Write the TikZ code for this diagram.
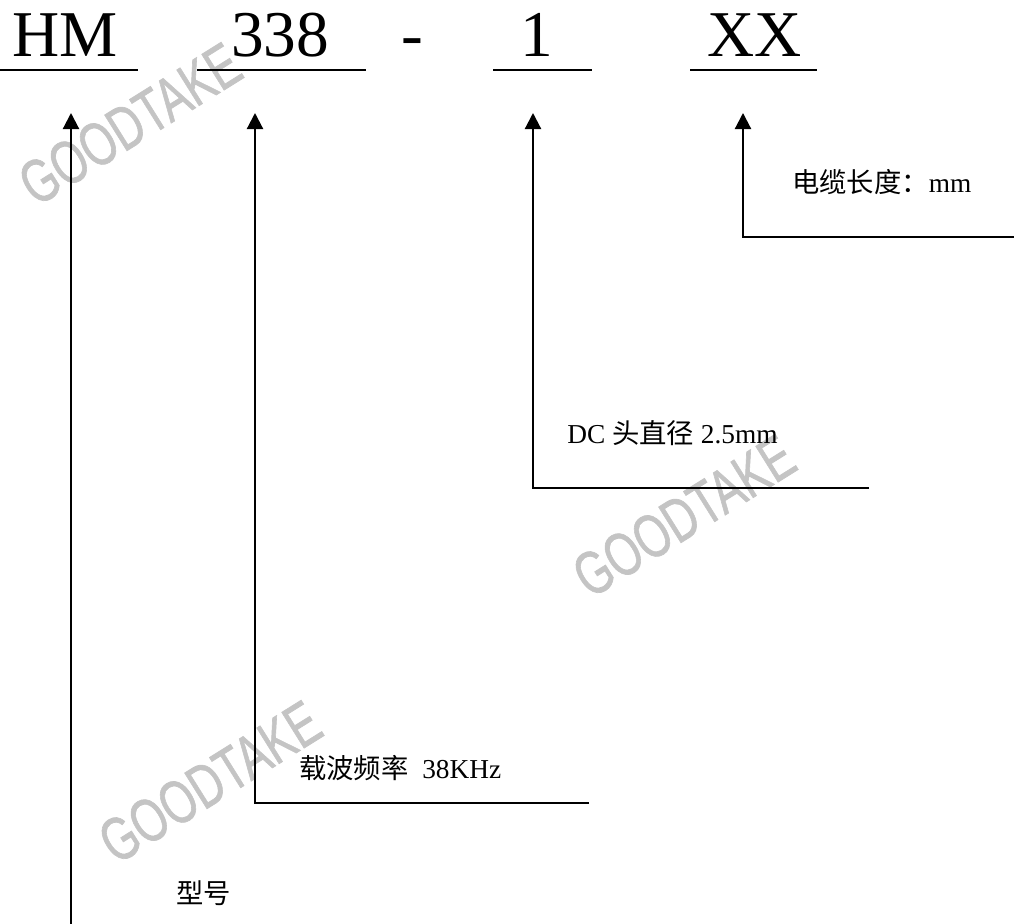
\documentclass[tikz,border=0pt]{standalone}
\usepackage{fontspec}
\setmainfont{Liberation Serif}
\newfontfamily\cjk{Noto Sans CJK SC}
\newfontfamily\wmfont[FakeBold=1.2]{Liberation Sans}
\usetikzlibrary{arrows.meta}
\definecolor{wmgray}{RGB}{196,196,196}
\tikzset{
  code/.style={anchor=base, inner sep=0pt, font=\fontsize{49pt}{49pt}\selectfont},
  uline/.style={line width=2.2pt},
  label/.style={anchor=base west, inner sep=0pt, font=\fontsize{20.5pt}{24pt}\selectfont},
  conn/.style={line width=1.6pt, -{Triangle[width=12pt,length=12pt]}},
  wm/.style={text=wmgray, inner sep=0pt, rotate=32, font=\fontsize{46pt}{46pt}\selectfont\wmfont}
}
\begin{document}
\begin{tikzpicture}[x=0.75pt,y=-0.75pt]
\useasboundingbox (0,0) rectangle (1014,924);
% watermarks
\node[wm] (wm1) at (130,124) {\scalebox{0.72}[1]{GOODTAKE}};
\node[wm] (wm2) at (684,516) {\scalebox{0.72}[1]{GOODTAKE}};
\node[wm] (wm3) at (210,782) {\scalebox{0.72}[1]{GOODTAKE}};
% code parts
\node[code] (hm) at (65,57) {HM};
\node[code] (n338) at (280,57) {338};
\node[code] (dash) at (412,57) {-};
\node[code] (one) at (537,57) {1};
\node[code] (xx) at (755,57) {XX};
\draw[uline] (0,70) -- (138,70);
\draw[uline] (197,70) -- (366,70);
\draw[uline] (493,70) -- (592,70);
\draw[uline] (690,70) -- (817,70);
% labels
\node[label] (l4) at (792,192) {{\cjk 电缆长度：}mm};
\node[label] (l3) at (567,443) {DC {\cjk 头直径} 2.5mm};
\node[label] (l2) at (299,778) {{\cjk 载波频率}\ \ 38KHz};
\node[label] (l1) at (176,903) {{\cjk 型号}};
% connector coordinates
\coordinate (t1) at (71,113);
\coordinate (t2) at (255,113);
\coordinate (t3) at (533,113);
\coordinate (t4) at (743,113);
\coordinate (b1) at (71,924);
\coordinate (c2) at (255,803);
\coordinate (e2) at (589,803);
\coordinate (c3) at (533,488);
\coordinate (e3) at (869,488);
\coordinate (c4) at (743,237);
\coordinate (e4) at (1014,237);
\draw[conn] (b1) -- (t1);
\draw[conn] (e2) -- (c2) -- (t2);
\draw[conn] (e3) -- (c3) -- (t3);
\draw[conn] (e4) -- (c4) -- (t4);
\end{tikzpicture}
\end{document}
